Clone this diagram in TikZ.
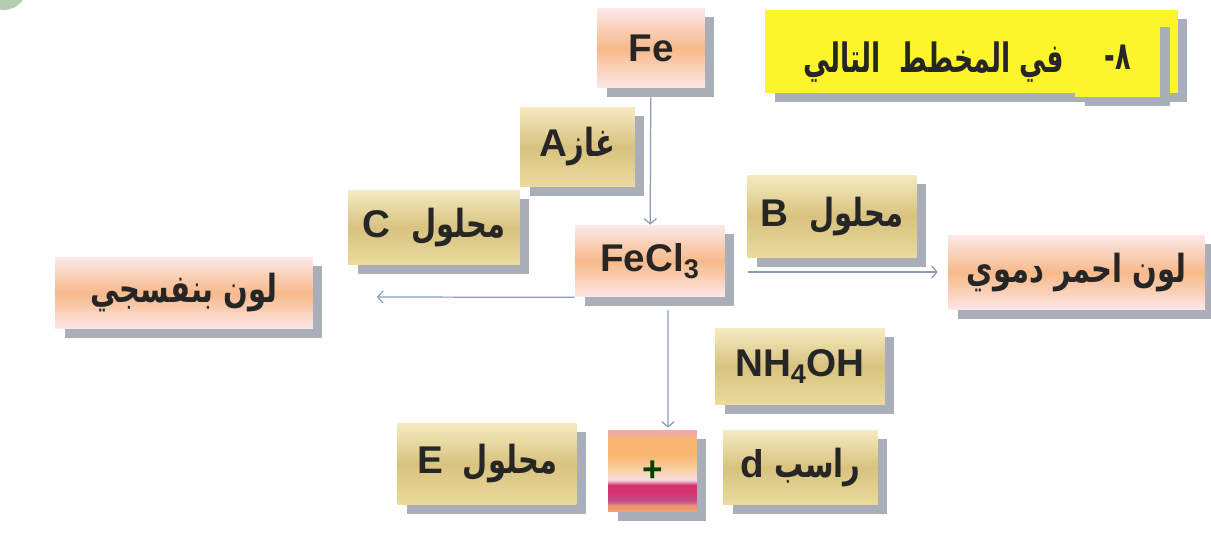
\documentclass[tikz,border=0pt]{standalone}
\usepackage{fontspec}
\setmainfont{Liberation Sans}
\newfontfamily\arabicfont[Script=Arabic, FakeStretch=0.75]{DejaVu Sans}
\newfontfamily\titlefont[Script=Arabic, FakeStretch=0.66]{DejaVu Sans}
\TeXXeTstate=1
\usetikzlibrary{shadows,calc,arrows.meta}

\definecolor{goldtop}{HTML}{F5EBC2}
\definecolor{goldmid}{HTML}{D8C27E}
\definecolor{goldbot}{HTML}{EBDB9E}
\definecolor{peachtop}{HTML}{FCE9E8}
\definecolor{peachmid}{HTML}{F7B98A}
\definecolor{peachbot}{HTML}{FDE7E6}
\definecolor{titleyellow}{HTML}{FCF52C}
\definecolor{shadowgray}{HTML}{A9AEB8}
\definecolor{inkgray}{HTML}{262626}
\definecolor{linkblue}{HTML}{8C9DB3}
\definecolor{plustop}{HTML}{F0AAAA}
\definecolor{plusorange}{HTML}{F8B66E}
\definecolor{pluspeach}{HTML}{FAD2A8}
\definecolor{pluswhite}{HTML}{F8DDE6}
\definecolor{pluscrimson}{HTML}{D5336F}
\definecolor{plusmagenta}{HTML}{C24C8C}
\definecolor{plusrose}{HTML}{E8907A}
\definecolor{plusbottom}{HTML}{F2A565}

\pgfdeclareverticalshading{plusshade}{100bp}{color(0bp)=(plusbottom); color(25bp)=(plusbottom); color(29bp)=(plusrose); color(32bp)=(plusmagenta); color(37bp)=(pluscrimson); color(41.5bp)=(pluscrimson); color(44.5bp)=(pluswhite); color(50.5bp)=(pluspeach); color(60bp)=(plusorange); color(69bp)=(plusorange); color(74bp)=(plustop); color(100bp)=(plustop)}

\newcommand{\lat}[1]{\beginL{\rmfamily #1}\endL}

\begin{document}
\begin{tikzpicture}[
    x=0.02cm, y=-0.02cm,
    every node/.style={text=inkgray, inner sep=0pt},
    card/.style={rectangle, font=\fontsize{22}{26}\selectfont\bfseries,
        drop shadow={shadow xshift=0.19cm, shadow yshift=-0.18cm, fill=shadowgray, opacity=1}},
    goldbox/.style={card, top color=goldtop, bottom color=goldbot, middle color=goldmid},
    peachbox/.style={card, top color=peachtop, bottom color=peachbot, middle color=peachmid},
    titlebox/.style={card, fill=titleyellow},
    link/.style={-{Straight Barb[length=3pt,width=7pt]}, draw=linkblue, line width=0.7pt}
]
% page and corner
\useasboundingbox[fill=white] (0,0) rectangle (1211,544);
\begin{scope}
  \clip (0,0) rectangle (1211,544);
  \fill[green!35!black!30!white] (4,-16) ellipse (24 and 26);
\end{scope}

% title
\node[titlebox, minimum width=8.26cm, minimum height=1.66cm] (title) at (971.5,51.5) {};
\node[titlebox, minimum width=1.7cm, minimum height=1.58cm] (num) at (1117.5,57.5)
    {\titlefont\beginR ٨-\endR};
\node[font=\fontsize{23}{27}\selectfont\bfseries] (titletext) at (934,62)
    {\titlefont\beginR في المخطط\ \ التالي\endR};

% boxes
\node[peachbox, minimum width=2.16cm, minimum height=1.6cm] (fe) at (651,48) {Fe};
\node[goldbox, minimum width=2.3cm, minimum height=1.6cm] (gasA) at (577.5,147)
    {\arabicfont\beginR غاز\lat{A}\endR};
\node[goldbox, minimum width=3.44cm, minimum height=1.5cm] (solC) at (434,227.5)
    {\arabicfont\beginR محلول\ \ \lat{C}\endR};
\node[peachbox, minimum width=3cm, minimum height=1.44cm] (fecl) at (650,261)
    {FeCl\textsubscript{3}};
\node[peachbox, minimum width=5.16cm, minimum height=1.44cm] (violet) at (184,293)
    {\arabicfont\beginR لون بنفسجي\endR};
\node[goldbox, minimum width=3.38cm, minimum height=1.66cm] (solB) at (832,216.5)
    {\arabicfont\beginR محلول\ \ \lat{B}\endR};
\node[peachbox, minimum width=5.14cm, minimum height=1.5cm] (red) at (1076.5,272.5)
    {\arabicfont\beginR لون احمر دموي\endR};
\node[goldbox, minimum width=3.4cm, minimum height=1.54cm] (nh4) at (800,366.5)
    {NH\textsubscript{4}OH};
\node[card, shading=plusshade, minimum width=1.78cm, minimum height=1.64cm,
      font=\fontsize{20}{22}\selectfont\bfseries, text=green!25!black] (plus) at (652.5,471)
    {\raisebox{-0.14cm}{+}};
\node[goldbox, minimum width=3.1cm, minimum height=1.5cm] (prec) at (800.5,467.5)
    {\arabicfont\beginR راسب \lat{d}\endR};
\node[goldbox, minimum width=3.58cm, minimum height=1.64cm] (solE) at (487,464)
    {\arabicfont\beginR محلول\ \ \lat{E}\endR};

% arrows
\coordinate (cend) at (377,297);
\draw[link, shorten <=0.18cm] (fe) -- (fecl);
\draw[link] (fecl.south west) -- (cend);
\draw[link, shorten >=0.2cm] ($(fecl.east)+(23,11)$) -- (red.west |- {$(fecl.east)+(23,11)$});
\draw[link] ($(fecl.south)+(18,13)$) -- ($(plus.north)+(15.5,-2)$);
\end{tikzpicture}
\end{document}
